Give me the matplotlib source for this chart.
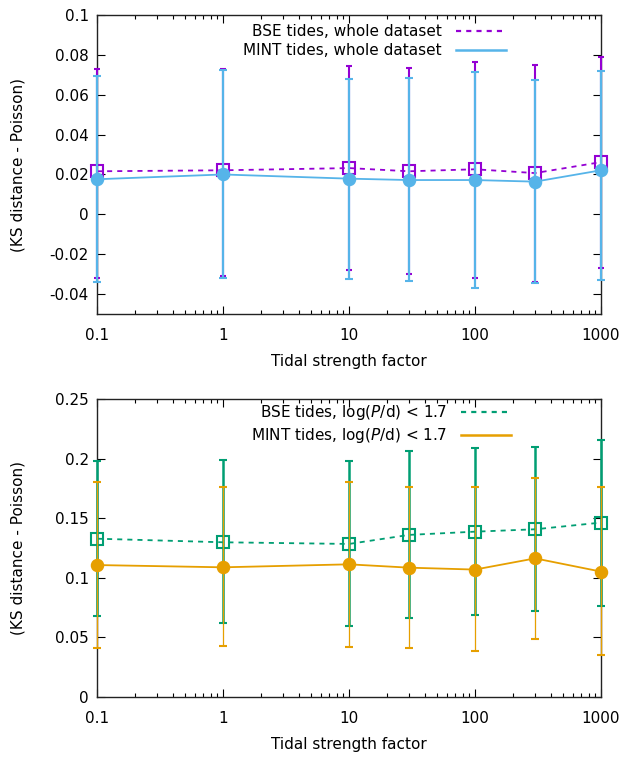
import matplotlib
matplotlib.use("Agg")
import matplotlib.pyplot as plt
from matplotlib.lines import Line2D
import matplotlib.ticker as mticker
import numpy as np

plt.rcParams['font.family'] = ['DejaVu Sans']
plt.rcParams['mathtext.fontset'] = 'dejavusans'

# Data
tidal = [0.1, 1, 10, 30, 100, 300, 1000]

# Top panel: whole dataset
bse_all = [0.0216, 0.0221, 0.0232, 0.0216, 0.0226, 0.0207, 0.0262]
bse_all_hi = [0.0731, 0.0727, 0.0744, 0.0733, 0.0763, 0.0748, 0.0791]
bse_all_lo = [-0.0318, -0.0308, -0.0281, -0.0301, -0.0321, -0.0340, -0.0271]

mint_all = [0.0176, 0.0200, 0.0179, 0.0172, 0.0172, 0.0164, 0.0221]
mint_all_hi = [0.0694, 0.0722, 0.0679, 0.0684, 0.0714, 0.0672, 0.0719]
mint_all_lo = [-0.0340, -0.0320, -0.0324, -0.0334, -0.0370, -0.0345, -0.0330]

# Bottom panel: log(P/d) < 1.7
bse_short = [0.1328, 0.1298, 0.1284, 0.1360, 0.1387, 0.1407, 0.1463]
bse_short_hi = [0.1980, 0.1990, 0.1980, 0.2064, 0.2086, 0.2095, 0.2156]
bse_short_lo = [0.0679, 0.0623, 0.0596, 0.0663, 0.0688, 0.0724, 0.0766]

mint_short = [0.1107, 0.1088, 0.1113, 0.1085, 0.1069, 0.1163, 0.1052]
mint_short_hi = [0.1805, 0.1758, 0.1805, 0.1765, 0.1758, 0.1837, 0.1765]
mint_short_lo = [0.0408, 0.0425, 0.0417, 0.0408, 0.0383, 0.0484, 0.0349]

xticks = [0.1, 1, 10, 100, 1000]
xticklabels = ['0.1', '1', '10', '100', '1000']
top_yticks = [0.1, 0.08, 0.06, 0.04, 0.02, 0, -0.02, -0.04]
top_yticklabels = ['0.1', '0.08', '0.06', '0.04', '0.02', '0', '-0.02', '-0.04']
bot_yticks = [0, 0.05, 0.1, 0.15, 0.2, 0.25]
bot_yticklabels = ['0', '0.05', '0.1', '0.15', '0.2', '0.25']

PURPLE = '#9400D3'
BLUE = '#56B4E9'
GREEN = '#009E73'
ORANGE = '#E69F00'

fig = plt.figure(figsize=(6.27, 7.57), dpi=100)
ax1 = fig.add_axes([97/627, 1-314/757, 504/627, 299/757])
ax2 = fig.add_axes([97/627, 1-697/757, 504/627, 298/757])


def draw_series(ax, y, lo, hi, color, marker, ls, mfc, elw, capw, capthick, z):
    y = np.array(y); lo = np.array(lo); hi = np.array(hi)
    eb = ax.errorbar(tidal, y, yerr=[y - lo, hi - y], color=color, ls=ls,
                     lw=1.3, marker=marker, ms=8.2 if marker == 'o' else 8.3,
                     mfc=mfc, mec=color, mew=1.5, ecolor=color, elinewidth=elw,
                     capsize=capw, capthick=capthick, zorder=z, clip_on=False)
    for art in eb.lines[1] + tuple(eb.lines[2]):
        art.set_clip_on(False)
    if ls != '-':
        eb.lines[0].set_dashes([2.8, 2.8])
    return eb


# Top
draw_series(ax1, bse_all, bse_all_lo, bse_all_hi, PURPLE, 's', '--', 'none', 1.5, 2.5, 2.0, 3)
draw_series(ax1, mint_all, mint_all_lo, mint_all_hi, BLUE, 'o', '-', BLUE, 1.6, 3.2, 1.6, 4)

# Bottom
draw_series(ax2, bse_short, bse_short_lo, bse_short_hi, GREEN, 's', '--', 'none', 1.8, 3.0, 1.8, 3)
draw_series(ax2, mint_short, mint_short_lo, mint_short_hi, ORANGE, 'o', '-', ORANGE, 0.9, 2.8, 1.0, 4)

for ax, yt, ytl, ylim in [(ax1, top_yticks, top_yticklabels, (-0.05, 0.1)),
                          (ax2, bot_yticks, bot_yticklabels, (0, 0.25))]:
    ax.set_xscale('log')
    ax.set_xlim(0.1, 1000)
    ax.set_ylim(*ylim)
    ax.xaxis.set_major_locator(mticker.FixedLocator(xticks))
    ax.xaxis.set_major_formatter(mticker.FixedFormatter(xticklabels))
    ax.xaxis.set_minor_locator(mticker.LogLocator(base=10, subs=np.arange(2, 10)))
    ax.xaxis.set_minor_formatter(mticker.NullFormatter())
    ax.set_yticks(yt)
    ax.set_yticklabels(ytl)
    ax.tick_params(which='both', direction='in', top=True, right=True, labelsize=11,
                   color='black', width=0.8)
    ax.tick_params(which='major', length=6)
    ax.tick_params(axis='x', which='major', pad=10)
    ax.tick_params(which='minor', length=3)
    ax.tick_params(axis='y', pad=6)
    for s in ax.spines.values():
        s.set_linewidth(1.0)
        s.set_color('#222222')
    ax.set_xlabel('Tidal strength factor', fontsize=11, labelpad=8)
    ax.set_ylabel('(KS distance - Poisson)', fontsize=11)
    ax.yaxis.set_label_coords(-0.142, 0.5)

h1 = [Line2D([], [], color=PURPLE, ls='--', dashes=[2.3, 2.3], lw=1.6),
      Line2D([], [], color=BLUE, ls='-', lw=1.8)]
ax1.legend(h1, ['BSE tides, whole dataset', 'MINT tides, whole dataset'],
           loc='upper right', bbox_to_anchor=(0.836, 1.01), frameon=False,
           markerfirst=False, fontsize=11, handlelength=3.3, handletextpad=0.9,
           labelspacing=0.25, borderpad=0.3)

h2 = [Line2D([], [], color=GREEN, ls='--', dashes=[2.3, 2.3], lw=1.6),
      Line2D([], [], color=ORANGE, ls='-', lw=1.8)]
ax2.legend(h2, [r'BSE tides, log($P$/d) < 1.7', r'MINT tides, log($P$/d) < 1.7'],
           loc='upper right', bbox_to_anchor=(0.846, 1.027), frameon=False,
           markerfirst=False, fontsize=11, handlelength=3.3, handletextpad=0.9,
           labelspacing=0.25, borderpad=0.3)

fig.savefig('out.png', dpi=100)
